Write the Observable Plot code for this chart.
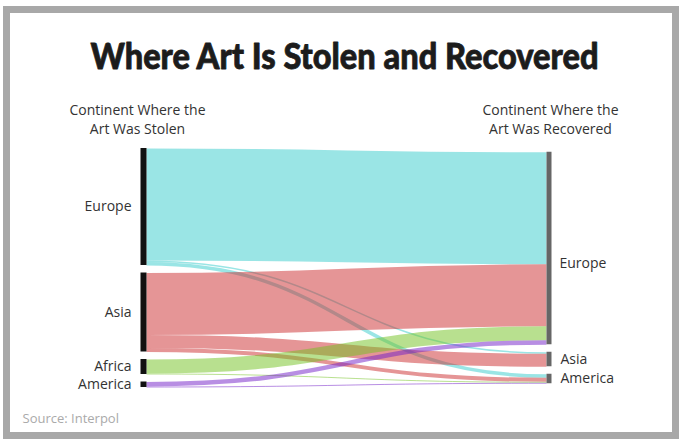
<!DOCTYPE html>
<html><head><meta charset="utf-8">
<script src="https://cdn.jsdelivr.net/npm/d3@7"></script>
<script src="https://cdn.jsdelivr.net/npm/@observablehq/plot@0.6"></script>
<style>
html,body{margin:0;padding:0;background:#fff;}
#wrap{position:relative;width:679px;height:439px;overflow:hidden;background:#fff;}
#border{position:absolute;left:3px;top:6px;width:676px;height:433px;box-sizing:border-box;border:7px solid #a8a8a8;}
#chart{position:absolute;left:0;top:0;}
</style></head><body>
<div id="wrap"><div id="border"></div><div id="chart"></div></div>
<script>
// ---- data ----
const stolenContinents = ["Europe", "Asia", "Africa", "America"];
const recoveredContinents = ["Europe", "Asia", "America"];
const flowFrom = ["Europe", "Europe", "Europe", "Asia", "Asia", "Asia", "Africa", "Africa", "America", "America"];
const flowTo   = ["Europe", "Asia", "America", "Europe", "Asia", "America", "Europe", "America", "Europe", "America"];
const flowValue = [112, 1.5, 3.5, 62, 13, 4, 14, 1, 4.5, 1];
const titleText = "Where Art Is Stolen and Recovered";
const leftHeader = "Continent Where the\nArt Was Stolen";
const rightHeader = "Continent Where the\nArt Was Recovered";
const sourceText = "Source: Interpol";
const palette = ["#35cbcb", "#cb2b2d", "#71c11f", "#711dc7"];

// ---- layout (value units) ----
const W = 679, H = 439, mt = 148, mb = 52, ml = 146, mr = 133;
const pad = 7.5;
const links = flowFrom.map((f, i) => ({from: f, to: flowTo[i], value: flowValue[i]}));
function column(names, key) {
  const vals = names.map(n => d3.sum(links.filter(l => l[key] === n), l => l.value));
  const total = d3.sum(vals) + pad * (names.length - 1);
  return {names, vals, total};
}
const L = column(stolenContinents, "from");
const R = column(recoveredContinents, "to");
const D = Math.max(L.total, R.total);
function place(col) {
  let y = (D - col.total) / 2;
  return col.names.map((n, i) => {
    const node = {name: n, y0: y, y1: y + col.vals[i]};
    node.ym = (node.y0 + node.y1) / 2;
    y = node.y1 + pad;
    return node;
  });
}
const leftNodes = place(L);
const rightNodes = place(R);
leftNodes.forEach(node => {
  let y = node.y0;
  links.filter(l => l.from === node.name)
    .sort((a, b) => recoveredContinents.indexOf(a.to) - recoveredContinents.indexOf(b.to))
    .forEach(l => { l.sy = y + l.value / 2; y += l.value; });
});
rightNodes.forEach(node => {
  let y = node.y0;
  links.filter(l => l.to === node.name)
    .sort((a, b) => stolenContinents.indexOf(a.from) - stolenContinents.indexOf(b.from))
    .forEach(l => { l.ty = y + l.value / 2; y += l.value; });
});
const ky = (H - mt - mb) / D;

const font = "'Open Sans', sans-serif";
const plot = Plot.plot({
  width: W, height: H,
  marginTop: mt, marginBottom: mb, marginLeft: ml, marginRight: mr,
  x: {domain: [0, 1], axis: null},
  y: {domain: [0, D], reverse: true, axis: null},
  color: {domain: stolenContinents, range: palette},
  style: {background: "transparent", fontFamily: font, overflow: "visible"},
  marks: [
    Plot.link(links, {
      x1: () => 0, x2: () => 1, y1: "sy", y2: "ty",
      curve: "bump-x", stroke: "from", strokeOpacity: 0.5,
      strokeWidth: d => d.value * ky
    }),
    Plot.ruleX(leftNodes, {x: () => 0, y1: "y0", y2: "y1", stroke: "#111", strokeWidth: 6, dx: -3}),
    Plot.ruleX(rightNodes, {x: () => 1, y1: "y0", y2: "y1", stroke: "#666", strokeWidth: 5, dx: 2.5}),
    Plot.text(leftNodes, {x: () => 0, y: "ym", text: "name", textAnchor: "end", dx: -15, fontSize: 14, fill: "#333", letterSpacing: -0.3}),
    Plot.text(rightNodes.filter(n => n.name !== "Europe"), {x: () => 1, y: "ym", text: "name", textAnchor: "start", dx: 14, fontSize: 14, fill: "#333", letterSpacing: -0.3}),
    Plot.text(rightNodes.filter(n => n.name === "Europe"), {x: () => 1, y: "ym", text: "name", textAnchor: "start", dx: 13, dy: 15, fontSize: 14, fill: "#333", letterSpacing: -0.3}),
    Plot.text([leftHeader], {x: () => 0, frameAnchor: "top", text: d => d, dx: -9, dy: -47, fontSize: 14, fill: "#333", lineHeight: 1.35, letterSpacing: -0.4}),
    Plot.text([rightHeader], {x: () => 1, frameAnchor: "top", text: d => d, dx: 4, dy: -47, fontSize: 14, fill: "#333", lineHeight: 1.35, letterSpacing: -0.4}),
    Plot.text([titleText], {frameAnchor: "top", text: d => d, dx: -2, dy: -105, fontSize: 36, fontWeight: 900, fontFamily: "Lato", fill: "#1c1c1c", stroke: "#1c1c1c", strokeWidth: 0.8}),
    Plot.text([sourceText], {frameAnchor: "bottom-left", text: d => d, dx: 22 - ml, dy: 35, textAnchor: "start", fontSize: 13, fill: "#aaa", letterSpacing: -0.3})
  ]
});
plot.querySelectorAll("text").forEach(t => {
  if (t.textContent === titleText) {
    t.setAttribute("textLength", 508);
    t.setAttribute("lengthAdjust", "spacingAndGlyphs");
  }
});
document.getElementById("chart").appendChild(plot);
</script>
</body></html>
